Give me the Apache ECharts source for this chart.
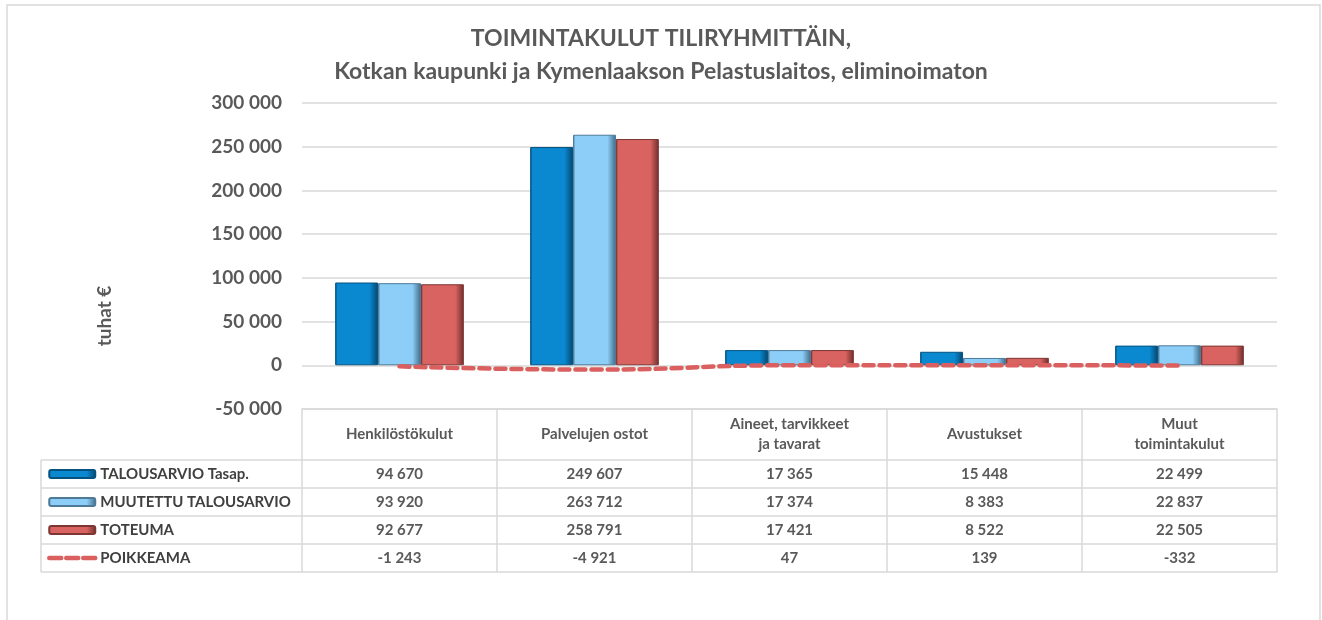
<!DOCTYPE html>
<html>
<head>
<meta charset="utf-8">
<script src="https://cdn.jsdelivr.net/npm/echarts@6/dist/echarts.min.js"></script>
<style>
  html, body { margin: 0; padding: 0; background: #fff; }
  #chart { width: 1322px; height: 620px; }
</style>
</head>
<body>
<div id="chart"></div>
<script>
// luokat ja sarjat
var categories = ['Henkilöstökulut', 'Palvelujen ostot', 'Aineet, tarvikkeet\nja tavarat', 'Avustukset', 'Muut\ntoimintakulut'];
var talousarvio = [94670, 249607, 17365, 15448, 22499];
var muutettu = [93920, 263712, 17374, 8383, 22837];
var toteuma = [92677, 258791, 17421, 8522, 22505];
var poikkeama = [-1243, -4921, 47, 139, -332];
var seriesNames = ['TALOUSARVIO Tasap.', 'MUUTETTU TALOUSARVIO', 'TOTEUMA', 'POIKKEAMA'];

var myChart = echarts.init(document.getElementById('chart'));

var FONT = 'Lato';
var GREY = '#595959';
var LINE = '#D9D9D9';

// tuhaterotin välilyönnillä
function fmt(v) {
    var s = String(Math.abs(v)).replace(/\B(?=(\d{3})+(?!\d))/g, ' ');
    return (v < 0 ? '-' : '') + s;
}

function bevel(base, dark) {
    return {
        type: 'linear', x: 0, y: 0, x2: 1, y2: 0,
        colorStops: [
            { offset: 0, color: dark },
            { offset: 0.05, color: base },
            { offset: 0.8, color: base },
            { offset: 1, color: dark }
        ]
    };
}

var gridLeft = 302, gridRight = 45, gridTop = 103, gridBottom = 211;
var headerH = 51, rowH = 28;

// taulukon rivit omina x-akseleinaan
var rows = [talousarvio, muutettu, toteuma, poikkeama];
var xAxes = [{
    type: 'category',
    data: categories,
    position: 'bottom',
    axisLine: { onZero: false, lineStyle: { color: LINE, width: 1.5 } },
    axisTick: { show: true, length: headerH + rowH * 4, lineStyle: { color: LINE, width: 1.5 } },
    axisLabel: {
        interval: 0, margin: 25, verticalAlign: 'middle', lineHeight: 20,
        color: GREY, fontFamily: FONT, fontWeight: 'bold', fontSize: 15
    }
}];
rows.forEach(function (r, k) {
    xAxes.push({
        type: 'category',
        data: r.map(fmt),
        position: 'bottom',
        offset: headerH + rowH * k,
        axisLine: { onZero: false, lineStyle: { color: LINE, width: 1.5 } },
        axisTick: { show: false },
        axisLabel: {
            interval: 0, margin: 14, verticalAlign: 'middle',
            color: GREY, fontFamily: FONT, fontWeight: 'bold', fontSize: 15
        }
    });
});
xAxes.push({
    type: 'category',
    data: categories,
    position: 'bottom',
    offset: headerH + rowH * 4,
    axisLine: { onZero: false, lineStyle: { color: LINE, width: 1.5 } },
    axisTick: { show: false },
    axisLabel: { show: false }
});

// legendasarakkeen viivat
var legendLeft = 41;
var tableTop = 620 - gridBottom + headerH;
var lines = [];
for (var i = 0; i <= 4; i++) {
    lines.push({
        type: 'line',
        shape: { x1: legendLeft, y1: tableTop + rowH * i, x2: gridLeft, y2: tableTop + rowH * i },
        style: { stroke: LINE, lineWidth: 1.5 }
    });
}
lines.push({
    type: 'line',
    shape: { x1: legendLeft, y1: tableTop, x2: legendLeft, y2: tableTop + rowH * 4 },
    style: { stroke: LINE, lineWidth: 1.5 }
});
lines.push({
    type: 'rect',
    shape: { x: 7, y: 5, width: 1313, height: 660 },
    style: { stroke: LINE, lineWidth: 1.5, fill: 'none' },
    z: -1
});

var option = {
    animation: false,
    backgroundColor: '#fff',
    title: {
        text: 'TOIMINTAKULUT TILIRYHMITTÄIN,\nKotkan kaupunki ja Kymenlaakson Pelastuslaitos, eliminoimaton',
        left: 'center',
        top: 17,
        textStyle: { color: GREY, fontFamily: FONT, fontWeight: 'bold', fontSize: 23, lineHeight: 33 }
    },
    legend: {
        data: [
            seriesNames[0], seriesNames[1], seriesNames[2],
            {
                name: seriesNames[3],
                itemStyle: { opacity: 0 },
                lineStyle: { width: 4.5, type: [12, 5], cap: 'round', color: '#D9605E' }
            }
        ],
        orient: 'vertical',
        left: 47,
        top: tableTop + 4,
        padding: 0,
        itemWidth: 46,
        itemHeight: 8,
        itemGap: 8,
        textStyle: { color: '#404040', fontFamily: FONT, fontWeight: 'bold', fontSize: 15, lineHeight: 20 }
    },
    grid: { left: gridLeft, right: gridRight, top: gridTop, bottom: gridBottom },
    xAxis: xAxes,
    yAxis: {
        type: 'value',
        min: -50000,
        max: 300000,
        interval: 50000,
        name: 'tuhat €',
        nameLocation: 'middle',
        nameGap: 188,
        nameTextStyle: { color: GREY, fontFamily: FONT, fontWeight: 'bold', fontSize: 19, padding: [0, 120, 0, 0] },
        axisLine: { show: false },
        axisTick: { show: false },
        axisLabel: { margin: 20, color: GREY, fontFamily: FONT, fontWeight: 'bold', fontSize: 19, formatter: fmt },
        splitLine: { lineStyle: { color: LINE, width: 1.5 } }
    },
    series: [
        {
            name: seriesNames[0], type: 'bar', data: talousarvio,
            barGap: 0, barCategoryGap: '34%',
            itemStyle: { color: bevel('#0A88D0', '#04476E'), borderColor: '#05527F', borderWidth: 1 }
        },
        {
            name: seriesNames[1], type: 'bar', data: muutettu,
            itemStyle: { color: bevel('#8DCEF8', '#3F6A85'), borderColor: '#4C7A98', borderWidth: 1 }
        },
        {
            name: seriesNames[2], type: 'bar', data: toteuma,
            itemStyle: { color: bevel('#D96360', '#6E2E2C'), borderColor: '#7E3634', borderWidth: 1 }
        },
        {
            name: seriesNames[3], type: 'line', data: poikkeama,
            symbol: 'none', smooth: true, z: 5,
            itemStyle: { color: '#D9605E' },
            lineStyle: { color: '#D9605E', width: 4.5, type: [10, 6], cap: 'round' }
        }
    ],
    graphic: lines
};

myChart.setOption(option);

window.onresize = function () {
    myChart.resize();
};
</script>
</body>
</html>
